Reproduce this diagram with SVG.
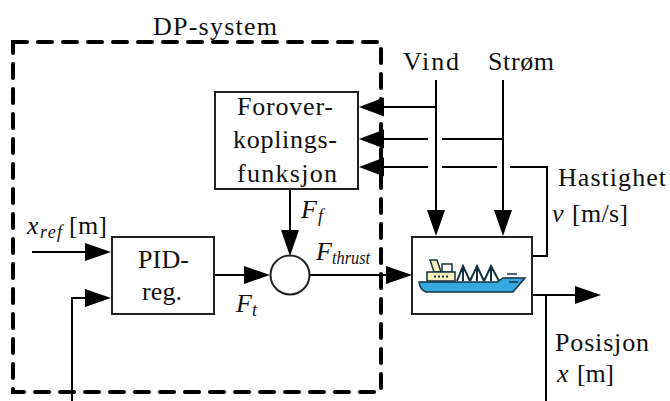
<svg xmlns="http://www.w3.org/2000/svg" width="670" height="401" viewBox="0 0 670 401">
<style>
text{font-family:"Liberation Serif","Times New Roman",serif;font-size:26px;fill:#111}
.i{font-style:italic}
.s{font-size:18px;font-style:italic}
.l{fill:none;stroke:#000;stroke-width:2}
.b{fill:#fff;stroke:#222;stroke-width:2}
.a{fill:#000;stroke:none}
.h{stroke:#16303f;stroke-width:1.500;fill:none}
</style>
<defs>
<polygon id="ar" class="a" points="0,0 -26,-9 -26,9"/>
<polygon id="al" class="a" points="0,0 25,-9.500 25,9.500"/>
<polygon id="ad" class="a" points="0,0 -9,-26 9,-26"/>
</defs>
<rect width="670" height="401" fill="#fff"/>
<g id="dp-system">
<path d="M13,42H381V392H13Z" fill="none" stroke="#000" stroke-width="4" stroke-dasharray="14,11" stroke-linecap="round"/>
<text x="153" y="35" textLength="124" lengthAdjust="spacing">DP-system</text>
</g>
<g id="connectors">
<path class="l" d="M436,80V212M503,80V212"/>
<path class="l" d="M436,107H380M428,139H380M428,167H380M442,139H503M442,167H497"/>
<path class="l" d="M510,167H547V256H532"/>
<path class="l" d="M32,252H90M72,401V298H90"/>
<path class="l" d="M214,275H247M290,189V232M310,275H390"/>
<path class="l" d="M532,295H578M546,295V401"/>
<use href="#al" x="359" y="107"/>
<use href="#al" x="359" y="139"/>
<use href="#al" x="359" y="167"/>
<use href="#ar" x="111" y="252"/>
<use href="#ar" x="111" y="298"/>
<use href="#ar" x="270" y="275"/>
<use href="#ar" x="412" y="275"/>
<use href="#ar" x="601" y="295"/>
<use href="#ad" x="290" y="256"/>
<use href="#ad" x="436" y="236"/>
<use href="#ad" x="503" y="236"/>
</g>
<g id="feedforward">
<rect class="b" x="215" y="92" width="143" height="97"/>
<text x="237" y="115" textLength="96" lengthAdjust="spacing">Forover-</text>
<text x="233" y="148" textLength="104" lengthAdjust="spacing">koplings-</text>
<text x="237" y="182" textLength="100" lengthAdjust="spacing">funksjon</text>
</g>
<g id="pid">
<rect class="b" x="112" y="237" width="102" height="77"/>
<text x="138" y="268" textLength="51" lengthAdjust="spacing">PID-</text>
<text x="142" y="300" textLength="40" lengthAdjust="spacing">reg.</text>
</g>
<g id="sum"><circle cx="290" cy="275" r="19.500" fill="#fff" stroke="#222" stroke-width="2"/></g>
<g id="vessel">
<rect class="b" x="412" y="237" width="120" height="77"/>
<path d="M430,260H437L441,272H434Z" fill="#f6eebc" stroke="#16303f" stroke-width="1.500"/>
<path d="M442,264H452V272H442Z" fill="#fff" stroke="#16303f" stroke-width="1.500"/>
<path d="M427,272H455V281H427Z" fill="#f6eebc" stroke="#16303f" stroke-width="1.500"/>
<path d="M434,276.500H450" stroke="#16303f" stroke-width="2" stroke-dasharray="2,2" fill="none"/>
<path d="M457,281L463,266L470,281M470,281L477,266L484,281M484,281L491,266L499,281M463,266V281M477,266V281M491,266V281" fill="none" stroke="#16303f" stroke-width="2"/>
<path d="M419,282H497L503,278H525L519,285L513,292H426Q420,290 419,282Z" fill="#35a8e0" stroke="#16303f" stroke-width="1.500"/>
<path d="M507,274H517M509,282H518" class="h"/>
</g>
<g id="labels">
<text x="403" y="70" textLength="56" lengthAdjust="spacing">Vind</text>
<text x="488" y="70" textLength="66" lengthAdjust="spacing">Strøm</text>
<text x="558" y="186" textLength="108" lengthAdjust="spacing">Hastighet</text>
<text x="552" y="222" class="i">v</text>
<text x="572" y="222" textLength="56" lengthAdjust="spacing">[m/s]</text>
<text x="555" y="351" textLength="94" lengthAdjust="spacing">Posisjon</text>
<text x="557" y="382" class="i">x</text>
<text x="577" y="382" textLength="37" lengthAdjust="spacing">[m]</text>
<text x="27" y="234" class="i">x</text>
<text x="40" y="238" class="s" textLength="22" lengthAdjust="spacing">ref</text>
<text x="69" y="234" textLength="38" lengthAdjust="spacing">[m]</text>
<text x="301" y="218" class="i">F</text>
<text x="318" y="222" class="s">f</text>
<text x="236" y="312" class="i">F</text>
<text x="252" y="316" class="s">t</text>
<text x="316" y="260" class="i">F</text>
<text x="332" y="264" class="s" textLength="38" lengthAdjust="spacingAndGlyphs">thrust</text>
</g>
</svg>
